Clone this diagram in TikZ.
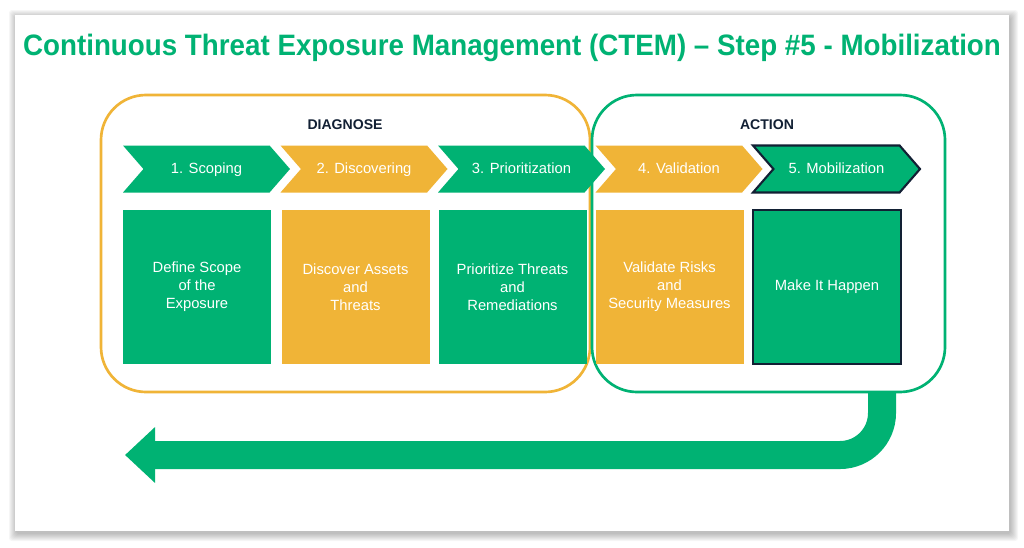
\documentclass[tikz,border=0pt]{standalone}
\usepackage{fontspec}
\setmainfont{Liberation Sans}
\usetikzlibrary{shapes.symbols,arrows.meta}

\definecolor{ctemgreen}{RGB}{0,178,115}
\definecolor{ctemorange}{RGB}{240,180,55}
\definecolor{ctemnavy}{RGB}{18,32,52}

\tikzset{
  phase/.style={signal, signal from=west, signal to=east, signal pointer angle=98,
    minimum width=167*0.025cm, minimum height=47*0.025cm, inner sep=0pt,
    text height=1.6ex, text depth=0.45ex,
    text=white, font=\fontsize{10.5}{12}\selectfont},
  task/.style={rectangle, minimum width=148*0.025cm, minimum height=154*0.025cm,
    inner sep=0pt, align=center, text=white, font=\fontsize{10.5}{12.8}\selectfont},
  stage/.style={rectangle, rounded corners=45*0.025cm, line width=1.9pt,
    minimum height=297*0.025cm, inner sep=0pt},
  stagelabel/.style={text=ctemnavy, font=\fontsize{10}{12}\selectfont\bfseries},
  current/.style={draw=ctemnavy, line width=1.5pt},
}

\begin{document}
\begin{tikzpicture}[x=0.025cm,y=-0.025cm]
\useasboundingbox (0,0) rectangle (1024,547);
% panel with shadow
\foreach \i in {1,...,8}
  \fill[black, opacity=0.035, rounded corners=2] (15-\i+2,15-\i+3) rectangle (1009+\i+1,531+\i+2);
\fill[white] (15,15) rectangle (1009,531);

\node (title) at (512,48) {\scalebox{0.94}[1]{\fontsize{21}{24}\selectfont\bfseries\color{ctemgreen}Continuous Threat Exposure Management (CTEM) – Step \#5 - Mobilization}};

\node[stage, draw=ctemorange, minimum width=489*0.025cm] (diag) at (345.5,243.5) {};
\node[stage, draw=ctemgreen, minimum width=353*0.025cm] (act) at (768.5,243.5) {};
\node[stagelabel] (diaglabel) at (345,125) {DIAGNOSE};
\node[stagelabel] (actlabel) at (767,125) {ACTION};

\node[phase, fill=ctemgreen] (s1) at (206.5,169) {1. Scoping};
\node[phase, fill=ctemorange] (s2) at (364,169) {2. Discovering};
\node[phase, fill=ctemgreen] (s3) at (521.5,169) {3. Prioritization};
\node[phase, fill=ctemorange] (s4) at (679,169) {4. Validation};
\node[phase, fill=ctemgreen, current] (s5) at (836.5,169) {5. Mobilization};

\node[task, fill=ctemgreen] (d1) at (197,287) {Define Scope\\of the\\Exposure};
\node[task, fill=ctemorange] (d2) at (355.5,287) {Discover Assets\\and\\Threats};
\node[task, fill=ctemgreen] (d3) at (512.5,287) {Prioritize Threats\\and\\Remediations};
\node[task, fill=ctemorange] (d4) at (669.5,287) {Validate Risks\\and\\Security Measures};
\node[task, fill=ctemgreen, current] (d5) at (827,287) {Make It Happen};

\coordinate (loopstart) at (882,393);
\coordinate (loopend) at (125,455);
\draw[ctemgreen, line width=28*0.025cm, rounded corners=42*0.025cm,
  -{Triangle[length=30*0.025cm, width=54*0.025cm]}] (loopstart) |- (loopend);
\end{tikzpicture}
\end{document}
